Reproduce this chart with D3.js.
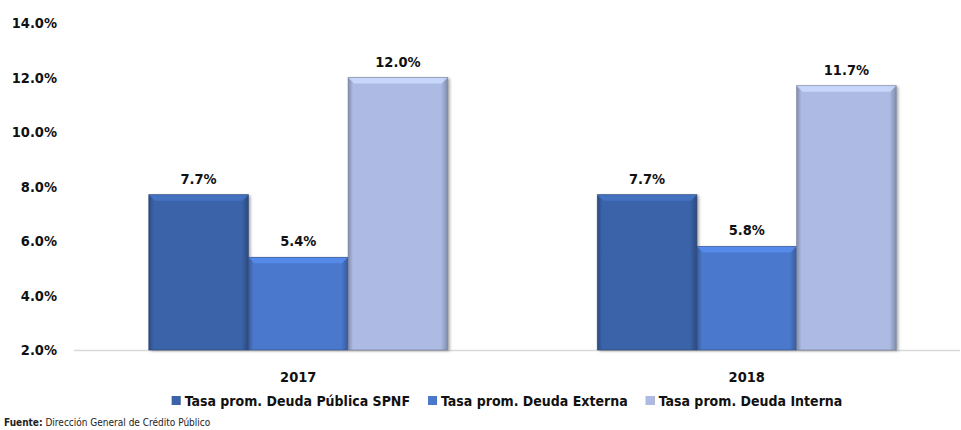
<!DOCTYPE html>
<html><head><meta charset="utf-8">
<script src="https://cdn.jsdelivr.net/npm/d3@7"></script>
<style>
body{margin:0;background:#fff;}
text{font-family:"DejaVu Sans Condensed","Liberation Sans Narrow",sans-serif;}
</style></head>
<body><svg id="c" width="961" height="430"></svg>
<script>
const years = ["2017","2018"];
const seriesNames = ["Tasa prom. Deuda Pública SPNF","Tasa prom. Deuda Externa","Tasa prom. Deuda Interna"];
const spnf = [7.7, 7.7];
const externa = [5.4, 5.8];
const interna = [12.0, 11.7];
const yTicks = [2,4,6,8,10,12,14];
const colors = ["#3b63a9","#4a78cc","#adbbe4"];

const values = [spnf, externa, interna];
const svg = d3.select("#c");
const defs = svg.append("defs");

colors.forEach((c,i)=>{
  const g = defs.append("linearGradient").attr("id","g"+i).attr("x1","0").attr("x2","1").attr("y1","0").attr("y2","0");
  const dk = d3.color(c).darker(0.8);
  g.append("stop").attr("offset","0").attr("stop-color",dk);
  g.append("stop").attr("offset","0.05").attr("stop-color",c);
  g.append("stop").attr("offset","0.93").attr("stop-color",c);
  g.append("stop").attr("offset","1").attr("stop-color",dk);
});
const f = defs.append("filter").attr("id","sh").attr("x","-10%").attr("y","-10%").attr("width","130%").attr("height","130%");
f.append("feDropShadow").attr("dx",2).attr("dy",1).attr("stdDeviation",1.5).attr("flood-color","#000").attr("flood-opacity",0.35);

const y = d3.scaleLinear().domain([2,14]).range([350,23]);
const x0 = d3.scaleBand().domain(years).range([74,971]).padding(0);
const bw = x0.bandwidth();
const x1 = d3.scaleBand().domain(d3.range(3)).range([bw/6, bw*5/6]).padding(0);

svg.append("line").attr("x1",74).attr("x2",960).attr("y1",y(2)+0.5).attr("y2",y(2)+0.5)
  .attr("stroke","#d9d9d9").attr("stroke-width",1.5);

const yAxis = d3.axisLeft(y).tickValues(yTicks).tickFormat(d=>d.toFixed(1)+"%").tickSize(0).tickPadding(0);
const ya = svg.append("g").attr("transform","translate(57,0)").call(yAxis);
ya.select(".domain").remove();
ya.selectAll("text").attr("font-size",14.5).attr("font-weight","bold").attr("fill","#111")
  .style("font-family",'"DejaVu Sans Condensed","Liberation Sans Narrow",sans-serif');

years.forEach((yr,gi)=>{
  const g = svg.append("g").attr("transform",`translate(${x0(yr)},0)`);
  values.forEach((arr,si)=>{
    const v = arr[gi];
    const bx = x1(si), w = x1.bandwidth(), top = y(v), h = y(2)-y(v);
    g.append("rect").attr("x",bx).attr("y",top).attr("width",w).attr("height",h)
      .attr("fill",`url(#g${si})`).attr("filter","url(#sh)");
    const b = 6;
    g.append("path").attr("d",`M${bx},${top}L${bx+w},${top}L${bx+w-b},${top+b}L${bx+b},${top+b}Z`)
      .attr("fill",d3.color(colors[si]).brighter(0.45)).attr("opacity",0.85);
    g.append("rect").attr("x",bx).attr("y",top).attr("width",w).attr("height",h)
      .attr("fill","none").attr("stroke",d3.color(colors[si]).darker(1.2)).attr("stroke-width",0.8).attr("opacity",0.7);
    g.append("text").attr("x",bx+w/2).attr("y",top-11).attr("text-anchor","middle")
      .attr("font-size",14.5).attr("font-weight","bold").attr("fill","#111").text(v.toFixed(1)+"%");
  });
  svg.append("text").attr("x",x0(yr)+bw/2).attr("y",382).attr("text-anchor","middle")
    .attr("font-size",14.5).attr("font-weight","bold").attr("fill","#111").text(yr);
});

// legend, laid out sequentially and centred
const leg = svg.append("g");
let cx = 0;
seriesNames.forEach((n,i)=>{
  const lg = leg.append("g").attr("transform",`translate(${cx},396)`);
  lg.append("rect").attr("width",9).attr("height",9).attr("fill",`url(#g${i})`);
  const t = lg.append("text").attr("x",13).attr("y",10).attr("font-size",14).attr("font-weight","bold").attr("fill","#111").text(n);
  cx += 13 + t.node().getComputedTextLength() + 18;
});
const total = cx - 18;
leg.attr("transform",`translate(${507 - total/2},0)`);

svg.append("text").attr("x",4).attr("y",426).attr("font-size",10).attr("fill","#222")
  .html('<tspan font-weight="bold">Fuente:</tspan> Dirección General de Crédito Público');
</script></body></html>
